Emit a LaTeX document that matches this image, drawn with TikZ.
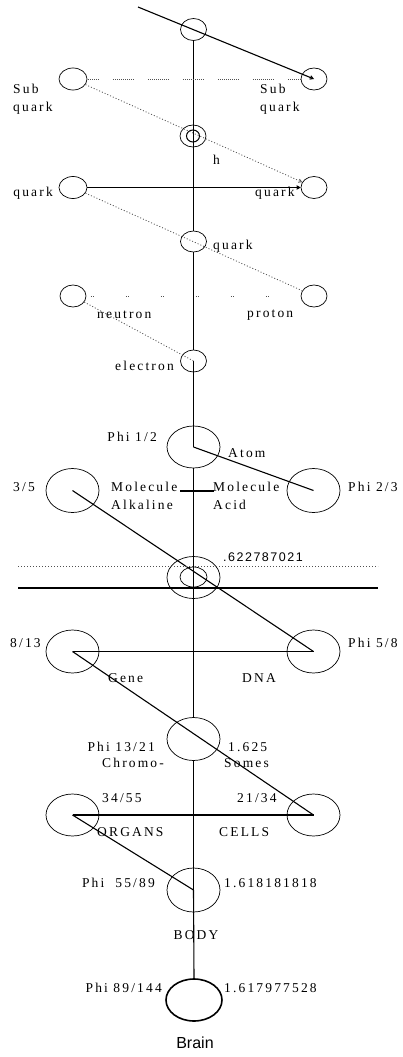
\documentclass[tikz,border=0pt]{standalone}
\usepackage{fontspec}
\setmainfont{Liberation Serif}
\setsansfont{Liberation Sans}
\newfontfamily\spacedfont{Liberation Serif}[LetterSpace=16]
\newfontfamily\numsans{Liberation Sans}[LetterSpace=12]
\usepackage{tikz}
\usetikzlibrary{shapes.geometric,arrows.meta}
\definecolor{ink}{HTML}{000000}
\definecolor{dotgray}{HTML}{505050}
\tikzset{
  line/.style={draw=ink, line width=1.1pt},
  dotline/.style={draw=dotgray, line width=0.8pt, dash pattern=on 1pt off 2pt},
  dashrow/.style={draw=dotgray, line width=0.8pt,
    dash pattern=on 1pt off 1pt on 1pt off 1pt on 1pt off 1pt on 1pt off 1pt on 1pt off 1pt on 1pt off 1pt on 1pt off 1pt on 1pt off 1pt on 1pt off 1pt on 1pt off 1pt on 1pt off 14pt,
    dash phase=9pt},
  dotrow/.style={draw=dotgray, line width=0.8pt, dash pattern=on 1pt off 1.5pt on 1pt off 31.5pt, dash phase=30.5pt},
  ring/.style={ellipse, draw=ink, line width=0.7pt, inner sep=0pt, minimum width=26pt, minimum height=22pt},
  bigring/.style={ring, minimum width=53pt, minimum height=42pt},
  tip/.style={-{Straight Barb[length=3pt,width=3.5pt]}},
  lbl/.style={text=ink, font=\spacedfont\fontsize{13.5}{18}\selectfont, inner sep=0pt},
  slbl/.style={text=ink, font=\numsans\fontsize{12.5}{15}\selectfont, inner sep=0pt}
}

\begin{document}
\begin{tikzpicture}[x=1pt,y=-1pt]
  \useasboundingbox (0,0) rectangle (402,1057);

  % small rings
  \node[ring] (top) at (193.5,29.5) {};
  \node[ring, minimum width=28pt] (subL) at (73,79) {};
  \node[ring] (subR) at (314,79) {};
  \node[ring] (phiS) at (193,136) {};
  \node[ring, line width=1pt, minimum width=13pt, minimum height=12pt] (phiIn) at (193,136) {};
  \node[ring, minimum width=28pt] (quarkL) at (73,187.5) {};
  \node[ring] (quarkR) at (314,187.5) {};
  \node[ring, minimum height=21pt] (quark) at (193.5,241.5) {};
  \node[ring] (neutron) at (73,296) {};
  \node[ring] (proton) at (314,296) {};
  \node[ring] (electron) at (193.5,361) {};

  % big rings
  \node[bigring] (atom) at (193.5,447) {};
  \node[bigring, minimum height=44pt] (mol) at (72.5,490.5) {};
  \node[bigring, minimum height=44pt] (acid) at (313.5,490.5) {};
  \node[bigring] (core) at (193.5,577.5) {};
  \node[ring, minimum width=27pt, minimum height=20pt] (coreIn) at (193.5,577) {};
  \node[bigring, minimum height=43pt] (gene) at (72.5,651.5) {};
  \node[bigring, minimum height=43pt] (dna) at (313.5,651.5) {};
  \node[bigring, minimum height=43pt] (chromo) at (193.5,739) {};
  \node[bigring] (organs) at (72.5,815) {};
  \node[bigring] (cells) at (313.5,815) {};
  \node[bigring, minimum height=44pt] (body) at (193.5,890) {};
  \node[bigring, line width=1.6pt, minimum width=56pt] (brain) at (194,1000) {};

  \coordinate (topEnd) at (138,7);
  \coordinate (molA) at (180,491);
  \coordinate (molB) at (214,491);
  \coordinate (solidL) at (18,588);
  \coordinate (solidR) at (378,588);
  \coordinate (dotL) at (18,566);
  \coordinate (dotR) at (378,566);

  % the axis
  \draw[line] (top.south) -- (quark.north);
  \draw[line] (quark.south) -- (electron.north);
  \draw[line] (electron.center) -- (atom.center);
  \draw[line] (atom.south) -- (chromo.north);
  \draw[line] (chromo.south) -- (body.center);
  \draw[line] (body.center) -- (brain.north);

  % quark level
  \draw[line, tip] (topEnd) -- (subR.center);
  \draw[dashrow] (subL) -- (subR);
  \draw[dotline, tip] (subL) -- (quarkR);
  \draw[line, tip] (quarkL) -- (quarkR);
  \draw[dotline] (quarkL) -- (proton);
  \draw[dotrow] (neutron) -- (proton);
  \draw[dotline] (neutron) -- (electron.center);

  % phi levels
  \draw[line] (atom.center) -- (acid.center);
  \draw[line] (molA) -- (molB);
  \draw[line] (mol.center) -- (dna.center);
  \draw[dotline] (dotL) -- (dotR);
  \draw[line] (solidL) -- (solidR);
  \draw[line] (gene.center) -- (dna.center);
  \draw[line] (gene.center) -- (cells.center);
  \draw[line] (organs.center) -- (cells.center);
  \draw[line] (organs.center) -- (body.center);

  % labels
  \node[lbl, align=left, anchor=west] at (13,99) {Sub\\quark};
  \node[lbl, align=left, anchor=west] at (260,99) {Sub\\quark};
  \node[lbl, anchor=west] at (213,160) {h};
  \node[lbl, anchor=east] at (53,193) {quark};
  \node[lbl, anchor=west] at (255,193) {quark};
  \node[lbl, anchor=west] at (213,246) {quark};
  \node[lbl, anchor=west] at (97,315) {neutron};
  \node[lbl, anchor=west] at (247,315) {proton};
  \node[lbl, anchor=east] at (174,366) {electron};

  \node[lbl, anchor=east] at (157,437) {Phi 1/2};
  \node[lbl, anchor=west] at (228,453) {Atom};
  \node[lbl, anchor=west] at (13,487) {3/5};
  \node[lbl, align=left, anchor=west] at (111,496) {Molecule\\Alkaline};
  \node[lbl, align=left, anchor=west] at (213,496) {Molecule\\Acid};
  \node[lbl, anchor=west] at (348,487) {Phi 2/3};
  \node[slbl, anchor=west] at (223,557) {.622787021};

  \node[lbl, anchor=west] at (10,643) {8/13};
  \node[lbl, anchor=west] at (348,643) {Phi 5/8};
  \node[lbl, anchor=west] at (108,678) {Gene};
  \node[lbl, anchor=west] at (242,678) {DNA};
  \node[lbl, anchor=east] at (155,747) {Phi 13/21};
  \node[lbl, anchor=west] at (102,763) {Chromo-};
  \node[lbl, anchor=west] at (228,747) {1.625};
  \node[lbl, anchor=west] at (224,763) {Somes};
  \node[lbl, anchor=west] at (102,798) {34/55};
  \node[lbl, anchor=west] at (237,798) {21/34};
  \node[lbl, anchor=west] at (97,832) {ORGANS};
  \node[lbl, anchor=west] at (219,832) {CELLS};
  \node[lbl, anchor=east] at (155,883) {Phi~~55/89};
  \node[lbl, anchor=west] at (224,883) {1.618181818};
  \node[lbl] at (196,935) {BODY};
  \node[lbl, anchor=east] at (162,988) {Phi 89/144};
  \node[lbl, anchor=west] at (224,988) {1.617977528};
  \node[font=\sffamily\fontsize{16}{18}\selectfont, inner sep=0pt] at (195,1043) {Brain};
\end{tikzpicture}
\end{document}
